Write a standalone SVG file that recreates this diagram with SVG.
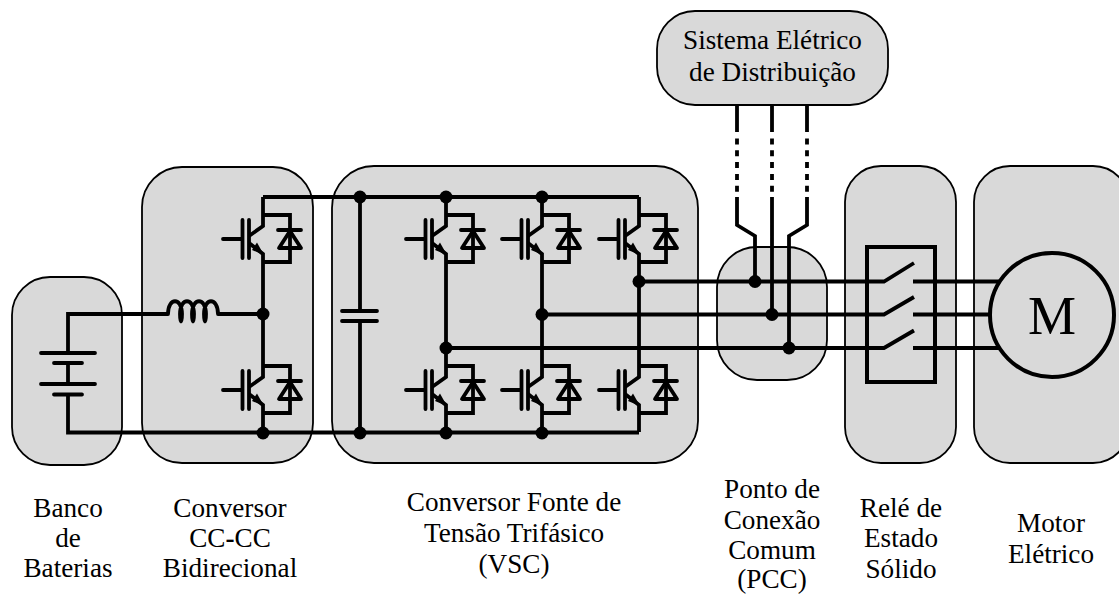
<svg xmlns="http://www.w3.org/2000/svg" xmlns:xlink="http://www.w3.org/1999/xlink" width="1119" height="595" viewBox="0 0 1119 595">
<style>
.r{fill:#d9d9d9;stroke:#000;stroke-width:1.8}
.w{fill:none;stroke:#000;stroke-width:3.8;stroke-linejoin:miter;stroke-linecap:butt}
.t{fill:none;stroke:#000;stroke-width:3.8;stroke-linecap:round;stroke-linejoin:round}
.d{fill:#000}
text{font-family:"Liberation Serif","Times New Roman",serif;font-size:27.2px;fill:#000;text-anchor:middle}
</style>
<defs>
<g id="sw">
<path class="t" d="M-40 0H-21M-20.500-19V19M-14-19V19"/>
<path class="w" d="M0-42V-24H27V23H0V42M0-24V-13L-14-3M-14 4L0 15V23"/>
<path class="d" d="M1 16L-6 3.500L-11 11Z"/>
<path class="t" d="M15-9H38M27-8L16 9H38L27-8Z"/>
</g>
</defs>
<g id="blocos">
<rect id="bloco-baterias" class="r" x="12" y="277" width="110" height="188" rx="38"/>
<rect id="bloco-cccc" class="r" x="142" y="167" width="171" height="296" rx="40"/>
<rect id="bloco-vsc" class="r" x="332" y="166" width="366" height="297" rx="42"/>
<rect id="bloco-pcc" class="r" x="717" y="247" width="110" height="133" rx="40"/>
<rect id="bloco-rele" class="r" x="845" y="166" width="111" height="297" rx="36"/>
<rect id="bloco-motor" class="r" x="974" y="166" width="155" height="297" rx="36"/>
<rect id="bloco-rede" class="r" x="657" y="11" width="231" height="94" rx="38"/>
</g>
<g id="conectores">
<path class="w" d="M168 314H68V353M68 363V384M68 394V432.500H639M218 314H263"/>
<path class="w" d="M263 197H639M360 197V311M360 321V432"/>
<path class="w" d="M263 281V348M446 281V348M542 281V348M639 281V348"/>
<path class="w" d="M639 281.500H884L914 263M542 314.500H884L914 297M446 348H884L914 330.500"/>
<path class="w" d="M913 281.500H1010M913 314.500H1010M913 348H1010"/>
<path class="w" d="M737 104V132M772 104V132M807 104V132M737 197V225L755 236V281M772 197V314M807 197V225L789 236V348"/>
<path class="w" stroke-dasharray="6 5.800" d="M737 138.500V192M772 138.500V192M807 138.500V192"/>
<path class="t" d="M168 314C168 297 182 297 182 314C182 324 180 324 180 314C180 297 194 297 194 314C194 324 192 324 192 314C192 297 206 297 206 314C206 324 204 324 204 314C204 297 218 297 218 314"/>
</g>
<g id="bateria">
<path class="t" d="M41 353H95M54 363H82M41 384H95M54 394.500H82"/>
</g>
<g id="capacitor"><path class="t" d="M342 311H377M342 321H377"/></g>
<g id="chaves">
<use xlink:href="#sw" href="#sw" x="263" y="239"/>
<use xlink:href="#sw" href="#sw" x="263" y="390"/>
<use xlink:href="#sw" href="#sw" x="446" y="239"/>
<use xlink:href="#sw" href="#sw" x="542" y="239"/>
<use xlink:href="#sw" href="#sw" x="639" y="239"/>
<use xlink:href="#sw" href="#sw" x="446" y="390"/>
<use xlink:href="#sw" href="#sw" x="542" y="390"/>
<use xlink:href="#sw" href="#sw" x="639" y="390"/>
</g>
<g id="juncoes" class="d">
<circle cx="263" cy="314" r="6.500"/><circle cx="263" cy="433" r="6.500"/>
<circle cx="360" cy="197" r="6.500"/><circle cx="360" cy="433" r="6.500"/>
<circle cx="446" cy="197" r="6.500"/><circle cx="542" cy="197" r="6.500"/>
<circle cx="446" cy="433" r="6.500"/><circle cx="542" cy="433" r="6.500"/>
<circle cx="639" cy="281.500" r="6.500"/><circle cx="542" cy="314.500" r="6.500"/><circle cx="446" cy="348" r="6.500"/>
<circle cx="755" cy="281.500" r="6.500"/><circle cx="772" cy="314.500" r="6.500"/><circle cx="789" cy="348" r="6.500"/>
</g>
<g id="rele"><rect x="867" y="247" width="68" height="135" fill="none" stroke="#000" stroke-width="4"/></g>
<g id="motor"><circle cx="1052" cy="315" r="62" fill="#d9d9d9" stroke="#000" stroke-width="4"/><text x="1052" y="334" style="font-size:54px">M</text></g>
<g id="rotulos">
<text x="772.500" y="49">Sistema Elétrico</text><text x="772.500" y="81">de Distribuição</text>
<text x="68" y="517">Banco</text><text x="68" y="547">de</text><text x="68" y="577">Baterias</text>
<text x="230" y="517">Conversor</text><text x="230" y="547">CC<tspan font-weight="bold">-</tspan>CC</text><text x="230" y="577">Bidirecional</text>
<text x="514" y="511">Conversor Fonte de</text><text x="514" y="542">Tensão Trifásico</text><text x="514" y="573">(VSC)</text>
<text x="772" y="498">Ponto de</text><text x="772" y="528.500">Conexão</text><text x="772" y="559">Comum</text><text x="772" y="588">(PCC)</text>
<text x="901" y="517">Relé de</text><text x="901" y="547">Estado</text><text x="901" y="578">Sólido</text>
<text x="1051" y="532">Motor</text><text x="1051" y="563">Elétrico</text>
</g>
</svg>
